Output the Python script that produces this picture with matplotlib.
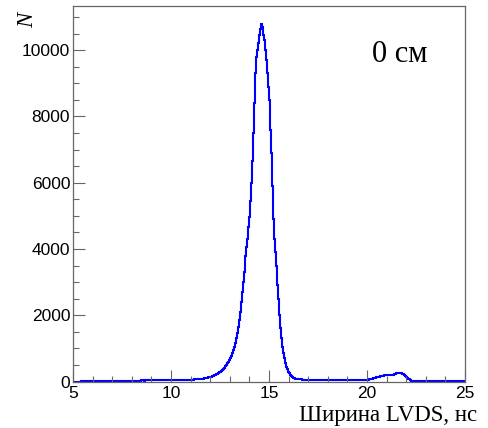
import numpy as np
import matplotlib
matplotlib.use("Agg")
import matplotlib.pyplot as plt
from matplotlib.ticker import MultipleLocator

# гистограмма ширины LVDS, бины по 0.05 нс от 5 до 25 (по 20 бинов в строке = 1 нс)
bin_lo = 5.0
bin_w = 0.05
counts = [
    0, 0, 0, 0, 0, 0, 0, 0, 4, 5, 5, 6, 5, 5, 6, 5, 6, 5, 6, 6,                      # 5
    8, 8, 8, 9, 10, 10, 10, 11, 10, 11, 12, 12, 12, 12, 13, 12, 14, 13, 14, 14,       # 6
    15, 15, 16, 15, 18, 17, 18, 19, 20, 19, 20, 21, 22, 21, 22, 23, 24, 23, 25, 24,   # 7
    25, 26, 28, 27, 30, 29, 28, 29, 30, 31, 32, 31, 30, 32, 32, 33, 35, 34, 34, 35,   # 8
    35, 36, 36, 37, 38, 37, 36, 38, 40, 39, 38, 40, 40, 41, 42, 41, 40, 42, 42, 43,   # 9
    42, 43, 44, 44, 45, 46, 46, 47, 48, 47, 48, 49, 50, 51, 52, 53, 54, 55, 55, 56,   # 10
    58, 59, 60, 61, 62, 64, 66, 68, 70, 73, 76, 80, 84, 90, 95, 101, 108, 115, 122, 130,  # 11
    140, 150, 160, 175, 190, 205, 220, 240, 260, 280,
    300, 325, 350, 385, 420, 460, 500, 550, 600, 650,                                 # 12
    700, 770, 850, 950, 1050, 1170, 1300, 1470, 1650, 1870,
    2100, 2400, 2700, 3000, 3300, 3550, 3800, 4050, 4300, 4650,                       # 13
    4950, 5450, 6000, 6650, 7500, 8400, 9300, 9800, 10000, 10200,
    10450, 10650, 10780, 10700, 10450, 10300, 10000, 9700, 9300, 8900,               # 14
    8500, 7600, 6900, 5900, 4900, 4300, 3900, 3500, 2900, 2500,
    2000, 1600, 1300, 1050, 850, 700, 560, 450, 370, 300,                             # 15
    250, 210, 170, 140, 120, 105, 95, 88, 80, 76, 72, 68, 65, 62, 60, 58, 57, 56, 55, 54,  # 16
    53, 52, 51, 50, 50, 49, 49, 48, 48, 47, 47, 46, 46, 46, 45, 45, 45, 44, 44, 44,   # 17
    44, 43, 42, 43, 44, 42, 42, 41, 42, 40, 41, 42, 40, 40, 41, 40, 41, 42, 41, 40,   # 18
    40, 41, 40, 40, 42, 41, 40, 42, 43, 44, 45, 45, 46, 47, 48, 48, 49, 50, 52, 54,   # 19
    56, 60, 65, 72, 80, 90, 100, 110, 120, 128,
    135, 142, 150, 158, 165, 172, 180, 185, 190, 190,                                 # 20
    190, 188, 185, 186, 190, 195, 200, 210, 222, 235,
    245, 255, 262, 265, 260, 250, 235, 215, 195, 170,                                 # 21
    145, 115, 90, 65, 45, 30, 20, 14, 10, 8, 7, 6, 5, 5, 5, 5, 5, 5, 5, 5,           # 22
    5, 5, 5, 4, 4, 4, 4, 4, 4, 4, 3, 3, 3, 3, 3, 3, 3, 3, 3, 3,                       # 23
    3, 3, 3, 2, 2, 2, 2, 2, 2, 2, 2, 2, 2, 2, 2, 2, 2, 2, 2, 2,                       # 24
]

edges = bin_lo + bin_w * np.arange(len(counts) + 1)

plt.rcParams["font.family"] = ["Liberation Sans", "DejaVu Sans"]

fig = plt.figure(figsize=(4.88, 4.28), dpi=100)
ax = fig.add_axes([73 / 488, 1 - 381.5 / 428, (465 - 73) / 488, (381.5 - 6) / 428])

ax.stairs(counts, edges, color="#0000ff", lw=1.5)

ax.set_xlim(5, 25)
ax.set_ylim(0, 11330)

ax.xaxis.set_major_locator(MultipleLocator(5))
ax.xaxis.set_minor_locator(MultipleLocator(1))
ax.yaxis.set_major_locator(MultipleLocator(2000))
ax.yaxis.set_minor_locator(MultipleLocator(500))

gray = "#666666"
for s in ax.spines.values():
    s.set_color(gray)
    s.set_linewidth(0.9)

ax.tick_params(which="both", direction="in", color=gray, width=0.8,
               top=False, right=False, labelsize=12.5)
ax.tick_params(which="major", length=8.5)
ax.tick_params(which="minor", length=4.3)
ax.tick_params(axis="x", pad=3.5)
ax.tick_params(axis="y", pad=2)

serif = ["Liberation Serif", "DejaVu Serif"]
fig.text(0.057, 0.97, "N", rotation=90, ha="center", va="top",
         fontsize=16.5, style="italic", family=serif)
fig.text(0.977, 1 - 421 / 428, "Ширина LVDS, нс", ha="right", va="baseline",
         fontsize=16.5, family=serif)
fig.text(371.7 / 488, 1 - 61.7 / 428, "0 см", ha="left", va="baseline",
         fontsize=22, family=serif)

fig.savefig("out.png", dpi=100)
